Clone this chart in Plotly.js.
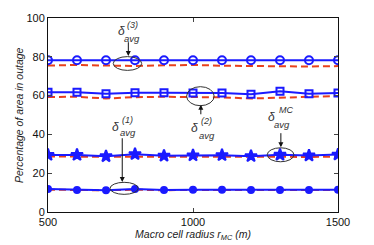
<!DOCTYPE html>
<html><head><meta charset="utf-8">
<script src="https://cdn.plot.ly/plotly-3.0.1.min.js"></script>
<style>html,body{margin:0;padding:0;background:#fff}#g{width:374px;height:245px}</style>
</head><body><div id="g"></div>
<script>
const radius = [500,600,700,800,900,1000,1100,1200,1300,1400,1500];
const sim3 = [78.2,78.2,78.2,78.2,78.2,78.2,78.2,78.2,78.2,78.2,78.2];
const ana3 = [75.5,75.8,75.5,75.3,75.6,75.8,75.4,75.2,75.3,75.0,75.2];
const sim2 = [61.7,61.7,60.9,61.5,61.5,61.3,61.4,60.7,62.2,61.0,61.3];
const ana2 = [59.3,59.4,58.5,59.2,59.4,59.4,59.1,58.5,59.0,59.2,59.8];
const simMC = [29.4,29.4,28.7,29.8,29.0,29.2,29.3,28.8,29.5,29.1,29.6];
const anaMC = [28.6,28.5,28.3,28.5,28.4,28.5,28.4,28.3,28.5,28.4,28.5];
const sim1 = [11.8,11.4,11.2,11.8,11.3,11.5,11.5,11.4,11.4,11.4,11.5];
const ana1 = [11.5,11.3,11.2,11.5,11.2,11.4,11.3,11.3,11.3,11.3,11.3];
const yTitle = 'Percentage of area in outage';
const xTitle = 'Macro cell radius r<sub>MC</sub> (m)';

const blue = '#1a1aff', red = '#e8401c';
const redTrace = y => ({x: radius, y: y, mode: 'lines', line: {color: red, width: 2, dash: '7px,4px'}, hoverinfo: 'none'});
const blueTrace = (y, sym, sz) => ({x: radius, y: y, mode: 'lines+markers', line: {color: blue, width: 2},
  marker: {symbol: sym, size: sz, color: blue, line: {color: blue, width: 2}}});

const data = [
  redTrace(ana3), redTrace(ana2), redTrace(anaMC), redTrace(ana1),
  blueTrace(sim3, 'circle-open', 8), blueTrace(sim2, 'square-open', 7),
  blueTrace(simMC, 'star', 9), blueTrace(sim1, 'circle', 6)
];

const ell = (x0,x1,y0,y1) => ({type:'circle', xref:'x', yref:'y', x0:x0, x1:x1, y0:y0, y1:y1, line:{color:'#333', width:1}});
const txt = (x,y,t,s) => ({x:x, y:y, xref:'x', yref:'y', text:t, showarrow:false, font:{family:'Liberation Sans, Arial', size:s, color:'#333', style:'italic'}});
const arr = (x,yFrom,yTo) => ({x:x, y:yTo, ax:x, ay:yFrom, axref:'x', ayref:'y', xref:'x', yref:'y', text:'', showarrow:true, arrowhead:2, arrowsize:1, arrowwidth:1, arrowcolor:'#111'});

const layout = {
  width: 374, height: 245,
  margin: {l: 48, r: 36, t: 18, b: 33},
  paper_bgcolor: '#fff', plot_bgcolor: '#fff',
  showlegend: false,
  font: {family: 'Liberation Sans, Arial', size: 11, color: '#111'},
  xaxis: {range: [500,1500], tickvals: [500,1000,1500], ticks: 'inside', ticklen: 4, mirror: 'ticks', showline: true, linecolor: '#111', linewidth: 1, showgrid: false, zeroline: false,
    tickfont: {size: 11},
    title: {text: xTitle, font: {size: 10.5, style: 'italic', color: '#222'}, standoff: 1}},
  yaxis: {range: [0,100], tickvals: [0,20,40,60,80,100], ticks: 'inside', ticklen: 4, mirror: 'ticks', showline: true, linecolor: '#111', linewidth: 1, showgrid: false, zeroline: false,
    tickfont: {size: 11}},
  shapes: [
    ell(725,823,73.0,80.1), ell(978,1073,54.8,64.6), ell(1256,1348,25.9,33.1), ell(714,811,9.1,15.3)
  ],
  annotations: [
    {xref:'paper', yref:'paper', x:-0.1, y:0.5, text:yTitle, textangle:-90, showarrow:false, xanchor:'center', yanchor:'middle',
      font:{family:'Liberation Sans, Arial', size:10.5, color:'#222', style:'italic'}},
    txt(753,93.3,'δ',12), txt(791,96.2,'(3)',9), txt(790,89.4,'avg',9.5), arr(777,88.3,80.4),
    txt(1006,43.5,'δ',12), txt(1046,47.0,'(2)',9), txt(1049,39.4,'avg',9.5), arr(1027,49.6,55.3),
    txt(1272,49.1,'δ',12), txt(1319,52.8,'MC',9), txt(1308,45.1,'avg',9.5), arr(1303,41.4,33.4),
    txt(732,44.0,'δ',12), txt(775,47.6,'(1)',9), txt(776,41.1,'avg',9.5), arr(756,38.8,15.5)
  ]
};
Plotly.newPlot('g', data, layout, {displayModeBar: false, staticPlot: true});
</script></body></html>
